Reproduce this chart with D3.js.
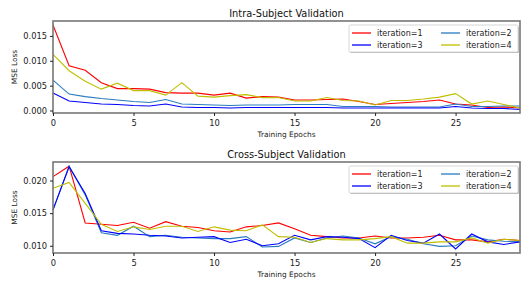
<!DOCTYPE html>
<html><head><meta charset="utf-8">
<script src="https://cdn.jsdelivr.net/npm/d3@7"></script>
<style>body{margin:0;background:#fff}text{font-family:"DejaVu Sans",sans-serif}</style>
</head><body><svg id="c" width="521" height="281"></svg>
<script>
const epochs = d3.range(30);
const seriesNames = ["iteration=1","iteration=2","iteration=3","iteration=4"];
const seriesColors = ["#ff0000","#2b7bbf","#0000ff","#bfbf00"];
// Intra-subject
const intra1 = [0.0172,0.0090,0.0081,0.0056,0.0044,0.0044,0.0043,0.0036,0.0035,0.0035,0.0031,0.0035,0.0025,0.0028,0.0027,0.0021,0.0021,0.0022,0.0023,0.0018,0.0012,0.0014,0.0016,0.0018,0.0021,0.0013,0.0011,0.0006,0.0007,0.0005];
const intra2 = [0.0061,0.0033,0.0028,0.0024,0.0021,0.0018,0.0016,0.0022,0.0013,0.0012,0.0011,0.0010,0.0011,0.0011,0.0011,0.0012,0.0012,0.0012,0.0008,0.0008,0.0008,0.0007,0.0007,0.0007,0.0007,0.0013,0.0008,0.0008,0.0009,0.0009];
const intra3 = [0.0035,0.0019,0.0016,0.0013,0.0012,0.0010,0.0009,0.0013,0.0007,0.0006,0.0006,0.0005,0.0006,0.0006,0.0006,0.0006,0.0006,0.0006,0.0005,0.0005,0.0005,0.0005,0.0005,0.0005,0.0005,0.0008,0.0005,0.0004,0.0004,0.0002];
const intra4 = [0.0113,0.0080,0.0059,0.0043,0.0055,0.0040,0.0040,0.0031,0.0056,0.0029,0.0027,0.0030,0.0032,0.0026,0.0026,0.0019,0.0019,0.0026,0.0020,0.0019,0.0011,0.0020,0.0020,0.0023,0.0027,0.0034,0.0013,0.0019,0.0012,0.0005];
// Cross-subject
const cross1 = [0.0206,0.0222,0.0135,0.0133,0.0131,0.0136,0.0127,0.0137,0.0130,0.0128,0.0123,0.0121,0.0129,0.0131,0.0135,0.0126,0.0116,0.0114,0.0112,0.0112,0.0115,0.0112,0.0112,0.0113,0.0116,0.0109,0.0109,0.0106,0.0110,0.0108];
const cross2 = [0.0155,0.0222,0.0178,0.0120,0.0116,0.0130,0.0114,0.0116,0.0113,0.0112,0.0111,0.0111,0.0114,0.0098,0.0099,0.0112,0.0105,0.0112,0.0115,0.0112,0.0103,0.0114,0.0110,0.0103,0.0099,0.0100,0.0115,0.0109,0.0107,0.0106];
const cross3 = [0.0155,0.0221,0.0180,0.0123,0.0119,0.0118,0.0116,0.0115,0.0112,0.0113,0.0114,0.0105,0.0110,0.0100,0.0103,0.0116,0.0109,0.0114,0.0113,0.0111,0.0097,0.0116,0.0108,0.0104,0.0118,0.0095,0.0118,0.0106,0.0102,0.0106];
const cross4 = [0.0188,0.0197,0.0165,0.0133,0.0122,0.0129,0.0125,0.0130,0.0130,0.0122,0.0129,0.0124,0.0123,0.0132,0.0114,0.0113,0.0105,0.0111,0.0109,0.0109,0.0111,0.0114,0.0104,0.0104,0.0106,0.0106,0.0112,0.0104,0.0110,0.0108];
const xTicks = [0,5,10,15,20,25];
const intraTicks = [0,0.005,0.010,0.015];
const crossTicks = [0.010,0.015,0.020];

const svg = d3.select("#c");
const L = 53, R = 520;

function panel(top, bottom, yDom, ticks, title, series) {
  const x = d3.scaleLinear().domain([0,29]).range([L,R]);
  const y = d3.scaleLinear().domain(yDom).range([bottom,top]);
  const g = svg.append("g");
  const line = d3.line().x((d,i)=>x(epochs[i])).y(d=>y(d));
  series.forEach((s,i)=>{
    g.append("path").datum(s).attr("d",line).attr("fill","none")
      .attr("stroke",seriesColors[i]).attr("stroke-width",1.1);
  });
  g.append("rect").attr("x",L).attr("y",top).attr("width",R-L).attr("height",bottom-top)
    .attr("fill","none").attr("stroke","#777").attr("stroke-width",1.6);
  const xa = g.append("g").attr("transform",`translate(0,${bottom})`)
    .call(d3.axisBottom(x).tickValues(xTicks).tickSize(3).tickPadding(4).tickFormat(d3.format("d")));
  const ya = g.append("g").attr("transform",`translate(${L},0)`)
    .call(d3.axisLeft(y).tickValues(ticks).tickSize(3).tickPadding(3).tickFormat(d3.format(".3f")));
  [xa,ya].forEach(a=>{a.select(".domain").remove();
    a.selectAll("text").attr("font-size",8.3).attr("fill","#222").attr("font-family","DejaVu Sans");
    a.selectAll("line").attr("stroke","#222");});
  g.append("text").attr("x",(L+R)/2).attr("y",top-4).attr("text-anchor","middle")
    .attr("font-size",9.8).attr("fill","#111").text(title);
  g.append("text").attr("x",(L+R)/2).attr("y",bottom+24).attr("text-anchor","middle")
    .attr("font-size",7.4).attr("fill","#222").text("Training Epochs");
  g.append("text").attr("transform",`translate(17,${(top+bottom)/2}) rotate(-90)`)
    .attr("text-anchor","middle").attr("font-size",7.4).attr("fill","#222").text("MSE Loss");
  // legend
  const lx = 349, ly = top+4, lw = 169, lh = 27;
  const lg = g.append("g");
  lg.append("rect").attr("x",lx+1).attr("y",ly+1).attr("width",lw).attr("height",lh)
    .attr("fill","#bbb").attr("rx",1.5);
  lg.append("rect").attr("x",lx).attr("y",ly).attr("width",lw).attr("height",lh)
    .attr("fill","#fff").attr("stroke","#ccc").attr("stroke-width",0.8).attr("rx",1.5);
  [0,1,2,3].forEach(i=>{
    const col = i%2, row = Math.floor(i/2);
    const ex = lx + 3 + col*89, ey = ly + 8 + row*12;
    lg.append("line").attr("x1",ex).attr("x2",ex+19).attr("y1",ey).attr("y2",ey)
      .attr("stroke",seriesColors[i]).attr("stroke-width",1.3);
    lg.append("text").attr("x",ex+25).attr("y",ey+3).attr("font-size",8)
      .attr("fill","#222").text(seriesNames[i]);
  });
}
panel(21, 113, [-0.0005, 0.0180], intraTicks, "Intra-Subject Validation", [intra1,intra2,intra3,intra4]);
panel(162, 253, [0.00889, 0.02284], crossTicks, "Cross-Subject Validation", [cross1,cross2,cross3,cross4]);
</script></body></html>
